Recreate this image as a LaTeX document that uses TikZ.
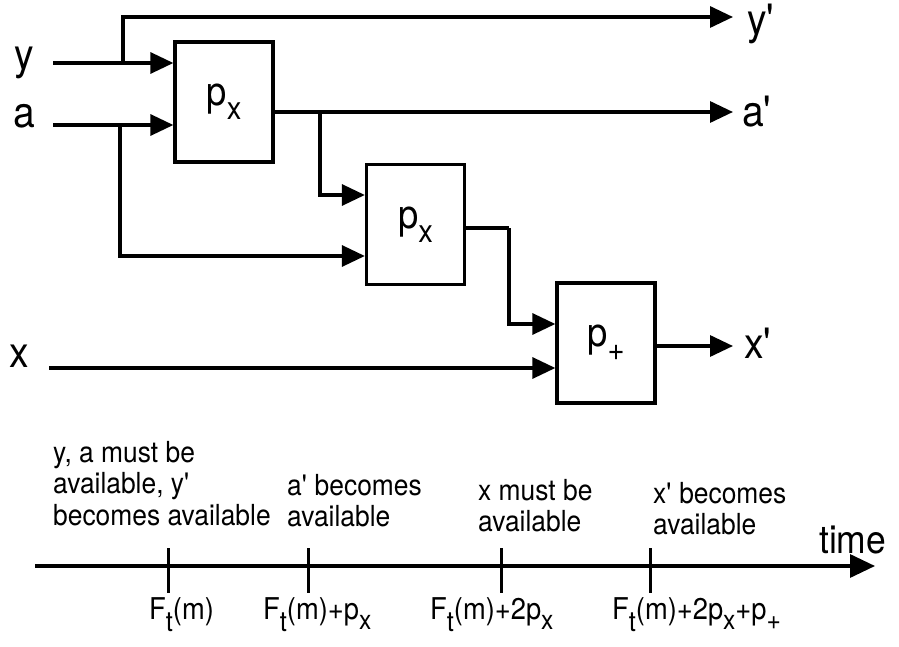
\documentclass[tikz,border=0pt]{standalone}
\usepackage{fontspec}
\setmainfont{TeX Gyre Heros}[FakeStretch=0.91]
\usetikzlibrary{arrows.meta}
\newcommand\Q{\textquotesingle}
\newcommand\FtT{F\raisebox{-12pt}{\fontsize{28}{28}\selectfont t}}
\newcommand\subx{\raisebox{-10pt}{\fontsize{27}{27}\selectfont x}}
\newcommand\subplus{\raisebox{-10pt}{\fontsize{27}{27}\selectfont +}}
\newcommand\boxp[1]{p\raisebox{-14pt}{\fontsize{32}{32}\selectfont #1}}
\begin{document}
\begin{tikzpicture}[x=1pt,y=-1pt,
  wire/.style={line width=3.3pt},
  arr/.style={wire,-{Triangle[length=23pt,width=21pt]}},
  procbox/.style={draw,line width=3.3pt,minimum width=98pt,minimum height=120pt,inner sep=0pt,font=\fontsize{40}{40}\selectfont},
  siglbl/.style={inner sep=0pt,anchor=base west,font=\fontsize{43}{43}\selectfont},
  evlbl/.style={inner sep=0pt,anchor=north west,align=left,font=\fontsize{29}{31.5}\selectfont},
  ticklbl/.style={inner sep=0pt,anchor=base west,font=\fontsize{30}{30}\selectfont},
  tickmark/.style={line width=3pt}]
\useasboundingbox (0,0) rectangle (899,647);

% processing boxes
\node[procbox] (b1) at (224,102) {\boxp{x}};
\node[procbox] (b2) at (415.5,224.5) {\boxp{x}};
\node[procbox] (b3) at (606,343) {\boxp{+}};

% signal labels
\node[siglbl] (ly) at (14,70) {y};
\node[siglbl] (la) at (13,128) {a};
\node[siglbl] (lx) at (9,367) {x};
\node[siglbl] (lyp) at (747,35) {y\Q};
\node[siglbl] (lap) at (742,127) {a\Q};
\node[siglbl] (lxp) at (744,358) {x\Q};

% free ends and junctions
\coordinate (yin) at (53,63);
\coordinate (ain) at (53,125);
\coordinate (xin) at (49,368);
\coordinate (yb) at (123,63);
\coordinate (ab) at (120,125);
\coordinate (ytip) at (733,17);
\coordinate (atip) at (733,112);
\coordinate (xtip) at (733,346);
\coordinate (apb) at (320,112);
\coordinate (b2o) at (509,228);

% connectors
\draw[arr] (yin) -- (yin -| b1.west);
\draw[arr] (ain) -- (ain -| b1.west);
\draw[arr] (yb) |- (ytip);
\draw[arr] (b1.east |- atip) -- (atip);
\draw[arr] (apb) |- (b2.west |- 0,195);
\draw[arr] (ab) |- (b2.west |- 0,256);
\draw[wire] (b2.east |- b2o) -- (b2o);
\draw[arr] (b2o) |- (b3.west |- 0,324);
\draw[arr] (xin) -- (xin -| b3.west);
\draw[arr] (b3.east |- xtip) -- (xtip);

% timeline
\coordinate (t0) at (35,566);
\coordinate (t1) at (875,566);
\draw[wire,-{Triangle[length=25pt,width=23pt]}] (t0) -- (t1);
\node[inner sep=0pt,anchor=base west,font=\fontsize{39}{39}\selectfont] (ltime) at (819,553) {time};

\foreach \tx/\nm in {168/k1,308/k2,501/k3,650/k4}{
  \coordinate (\nm) at (\tx,566);
  \draw[tickmark] ([yshift=18pt]\nm) -- ([yshift=-27pt]\nm);
}

\node[evlbl] (e1) at (53,441) {y, a must be\\available, y\Q\\becomes available};
\node[evlbl] (e2) at (287,474) {a\Q\ becomes\\available};
\node[evlbl] (e3) at (478,479) {x must be\\available};
\node[evlbl] (e4) at (653,482) {x\Q\ becomes\\available};

\node[ticklbl] (f1) at (149,619) {\FtT(m)};
\node[ticklbl] (f2) at (263,619) {\FtT(m)+p\subx};
\node[ticklbl] (f3) at (430,619) {\FtT(m)+2p\subx};
\node[ticklbl] (f4) at (612,619) {\FtT(m)+2p\subx+p\subplus};
\end{tikzpicture}
\end{document}
